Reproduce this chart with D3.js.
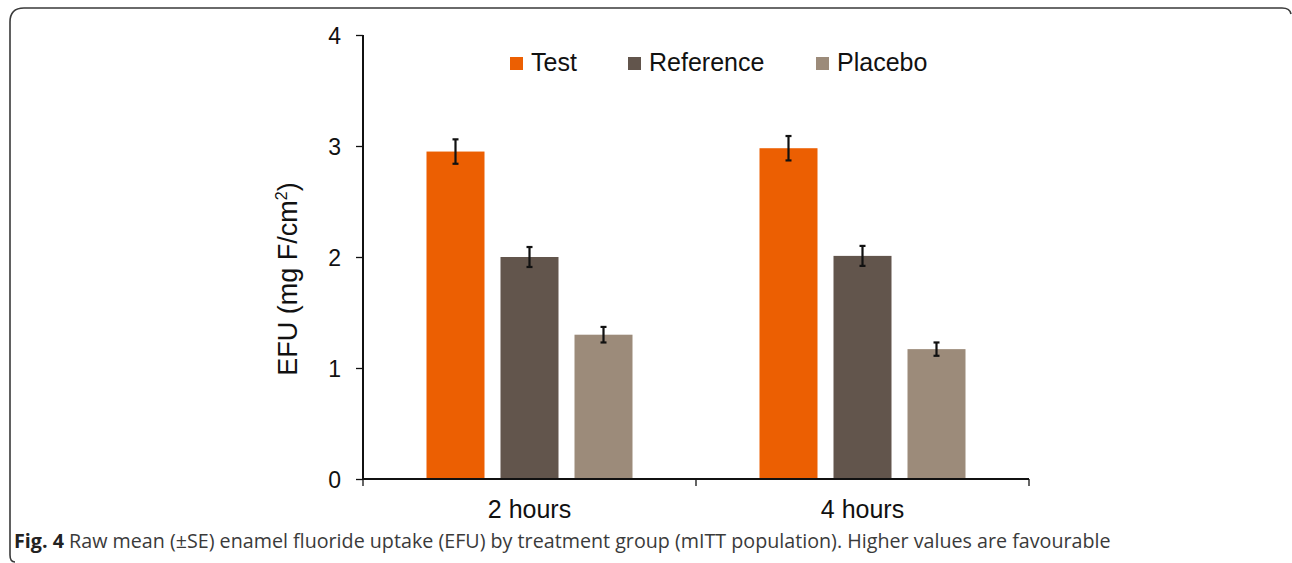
<!DOCTYPE html>
<html>
<head>
<meta charset="utf-8">
<script src="https://cdn.jsdelivr.net/npm/d3@7/dist/d3.min.js"></script>
<style>
  html, body { margin: 0; padding: 0; background: #fff; }
  svg { display: block; }
</style>
</head>
<body>
<svg id="chart" width="1292" height="563"></svg>
<script>
// Enamel fluoride uptake by treatment group and time point
const timepoints = ["2 hours", "4 hours"];
const groups = ["Test", "Reference", "Placebo"];
const meanValues = [
  [2.95, 2.00, 1.30],  // 2 hours
  [2.98, 2.01, 1.17]   // 4 hours
];
const seValues = [
  [0.11, 0.09, 0.07],
  [0.11, 0.09, 0.06]
];
const yTicks = [0, 1, 2, 3, 4];
const groupColors = ["#ec5f02", "#62554c", "#9c8b7a"];

const svg = d3.select("#chart");
const font = "'Liberation Sans', Arial, sans-serif";

// Panel frame (rounded top-left, bottom-left and top-right corners)
svg.append("path")
  .attr("d", "M 15,562 Q 10,562 10,555 V 22 Q 10,8 24,8 H 1282 Q 1290,8 1291,14")
  .attr("fill", "none")
  .attr("stroke", "#3a3a3a")
  .attr("stroke-width", 1.6);

const plot = { left: 363, right: 1029, top: 35, bottom: 479 };

const x0 = d3.scaleBand()
  .domain(timepoints)
  .range([plot.left, plot.right])
  .paddingInner(0)
  .paddingOuter(0);

const x1 = d3.scaleBand()
  .domain(groups)
  .range([0, x0.bandwidth()])
  .paddingInner(16 / 74)
  .paddingOuter(((333 - 3 * 58 - 2 * 16) / 2) / 74);

const y = d3.scaleLinear().domain([0, 4]).range([plot.bottom, plot.top]);

// Bars
const gGroups = svg.append("g").selectAll("g")
  .data(timepoints)
  .join("g")
  .attr("transform", d => `translate(${x0(d)},0)`);

gGroups.selectAll("rect")
  .data((d, i) => groups.map((g, j) => ({ g, j, v: meanValues[i][j], se: seValues[i][j] })))
  .join("rect")
  .attr("x", d => x1(d.g))
  .attr("width", x1.bandwidth())
  .attr("y", d => y(d.v))
  .attr("height", d => y(0) - y(d.v))
  .attr("fill", d => groupColors[d.j]);

// Error bars (±SE)
const err = gGroups.selectAll("g.err")
  .data((d, i) => groups.map((g, j) => ({ g, j, v: meanValues[i][j], se: seValues[i][j] })))
  .join("g")
  .attr("class", "err")
  .attr("stroke", "#111")
  .attr("stroke-width", 2.2);

err.append("line")
  .attr("x1", d => x1(d.g) + x1.bandwidth() / 2)
  .attr("x2", d => x1(d.g) + x1.bandwidth() / 2)
  .attr("y1", d => y(d.v + d.se))
  .attr("y2", d => y(d.v - d.se));
err.append("line")
  .attr("x1", d => x1(d.g) + x1.bandwidth() / 2 - 3)
  .attr("x2", d => x1(d.g) + x1.bandwidth() / 2 + 3)
  .attr("y1", d => y(d.v + d.se))
  .attr("y2", d => y(d.v + d.se));
err.append("line")
  .attr("x1", d => x1(d.g) + x1.bandwidth() / 2 - 3)
  .attr("x2", d => x1(d.g) + x1.bandwidth() / 2 + 3)
  .attr("y1", d => y(d.v - d.se))
  .attr("y2", d => y(d.v - d.se));

// Y axis
const yAxis = svg.append("g")
  .attr("transform", `translate(${plot.left},0)`)
  .call(d3.axisLeft(y).tickValues(yTicks).tickFormat(d3.format("d")).tickSize(7).tickPadding(15));
yAxis.select(".domain").attr("stroke", "#111").attr("stroke-width", 2)
  .attr("d", `M0,${plot.top}V${plot.bottom}`);
yAxis.selectAll(".tick line").attr("stroke", "#111").attr("stroke-width", 1.3);
yAxis.selectAll(".tick text")
  .attr("font-family", font).attr("font-size", 23).attr("fill", "#111")
  .attr("dy", "0.36em");

// X axis
const xAxis = svg.append("g")
  .attr("transform", `translate(0,${plot.bottom})`)
  .call(d3.axisBottom(x0).tickSize(0).tickPadding(21));
xAxis.select(".domain").attr("stroke", "#111").attr("stroke-width", 2)
  .attr("d", `M${plot.left},0H${plot.right}`);
xAxis.selectAll(".tick text")
  .attr("font-family", font).attr("font-size", 25).attr("fill", "#111");
// Category separator ticks
const sepTicks = [plot.left, x0(timepoints[1]), plot.right];
svg.append("g").selectAll("line")
  .data(sepTicks)
  .join("line")
  .attr("x1", d => d).attr("x2", d => d)
  .attr("y1", plot.bottom).attr("y2", plot.bottom + 7)
  .attr("stroke", "#111").attr("stroke-width", 1.3);

// Y axis title
svg.append("text")
  .attr("transform", "translate(297,279) rotate(-90)")
  .attr("text-anchor", "middle")
  .attr("font-family", font).attr("font-size", 27).attr("fill", "#111")
  .html("EFU (mg F/cm<tspan dy='-10' font-size='16'>2</tspan><tspan dy='10'>)</tspan>");

// Legend
const legendX = [510, 628, 816];
const legend = svg.append("g").selectAll("g")
  .data(groups)
  .join("g")
  .attr("transform", (d, i) => `translate(${legendX[i]},57)`);
legend.append("rect")
  .attr("width", 13).attr("height", 13)
  .attr("fill", (d, i) => groupColors[i]);
legend.append("text")
  .attr("x", 21).attr("y", 5).attr("dy", "0.36em")
  .attr("font-family", font).attr("font-size", 25).attr("fill", "#111")
  .text(d => d);

// Caption
const cap = svg.append("text")
  .attr("x", 14).attr("y", 548)
  .attr("font-family", "'Open Sans', 'Noto Sans', sans-serif")
  .attr("font-size", 19.7).attr("fill", "#3a3a3a");
cap.append("tspan").attr("font-weight", "bold").attr("fill", "#222").text("Fig. 4");
cap.append("tspan").text(" Raw mean (±SE) enamel fluoride uptake (EFU) by treatment group (mITT population). Higher values are favourable");
</script>
</body>
</html>
